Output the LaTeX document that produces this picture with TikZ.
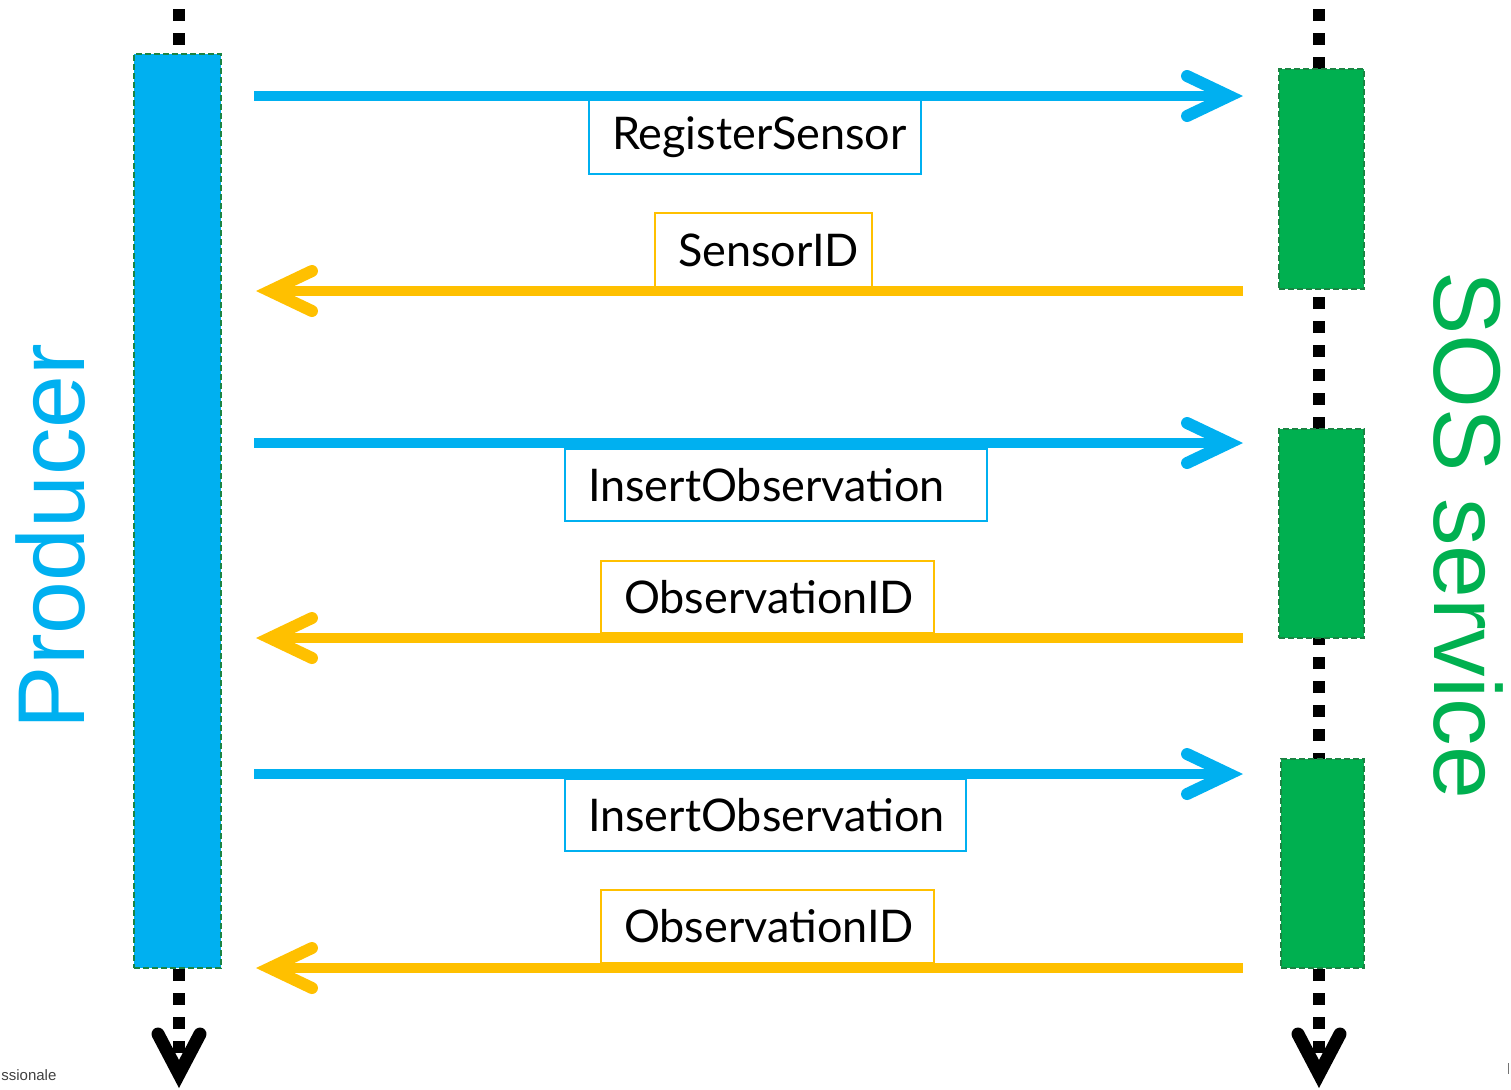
\documentclass[tikz,border=0pt]{standalone}
\usepackage{fontspec}
\setmainfont{Liberation Sans}
\newfontfamily\labelfont{Lato}
\usetikzlibrary{arrows.meta}
\definecolor{msgblue}{HTML}{00B0F0}
\definecolor{msggreen}{HTML}{00B050}
\definecolor{msgorange}{HTML}{FFC000}
\definecolor{edgegreen}{HTML}{1B8443}
\begin{document}
\begin{tikzpicture}[x=0.5pt,y=-0.5pt,
  lifeline/.style={line width=6pt, dash pattern=on 6pt off 6pt,
    -{Straight Barb[length=20pt,width=21pt,line width=6.5pt,line cap=round,line join=miter]}},
  activation/.style={draw=edgegreen, line width=1pt, dash pattern=on 3pt off 1.5pt,
    minimum width=#1, inner sep=0pt},
  request/.style={msgblue, line width=5pt,
    -{Straight Barb[length=21pt,width=20pt,line width=6pt,line cap=round,line join=miter]}},
  reply/.style={msgorange, line width=5pt,
    -{Straight Barb[length=21pt,width=20pt,line width=6pt,line cap=round,line join=miter]}},
  msglabel/.style={draw=#1, line width=1pt, fill=white, inner xsep=11.5pt, inner ysep=0pt,
    minimum height=37pt, align=left, anchor=west,
    font=\labelfont\fontsize{22.5}{22.5}\selectfont},
  actor/.style={font=\fontsize{47.5}{47.5}\selectfont, inner sep=0pt}
]
\useasboundingbox (0,0) rectangle (1511,1089);

% lifelines
\coordinate (prodtop) at (179,9);
\coordinate (prodend) at (179,1088);
\coordinate (sostop) at (1319,9);
\coordinate (sosend) at (1319,1088);
\draw[lifeline] (prodtop) -- (prodend);
\draw[lifeline] (sostop) -- (sosend);

% activation bars
\node[activation=43.5pt, fill=msgblue, minimum height=457pt] (prodbar) at (177.5,511) {};
\node[activation=42.5pt, fill=msggreen, minimum height=110pt] (sosA) at (1321.5,179) {};
\node[activation=42.5pt, fill=msggreen, minimum height=104.5pt] (sosB) at (1321.5,533.5) {};
\node[activation=41.5pt, fill=msggreen, minimum height=104.5pt] (sosC) at (1322.5,863.5) {};

% message end points
\coordinate (p1) at (254,96);   \coordinate (s1) at (1243,96);
\coordinate (p2) at (256,291);  \coordinate (s2) at (1243,291);
\coordinate (p3) at (254,443);  \coordinate (s3) at (1243,443);
\coordinate (p4) at (256,638);  \coordinate (s4) at (1243,638);
\coordinate (p5) at (254,774);  \coordinate (s5) at (1243,774);
\coordinate (p6) at (256,968);  \coordinate (s6) at (1243,968);

\draw[request] (p1) -- (s1);
\draw[reply]   (s2) -- (p2);
\draw[request] (p3) -- (s3);
\draw[reply]   (s4) -- (p4);
\draw[request] (p5) -- (s5);
\draw[reply]   (s6) -- (p6);

% message labels
\node[msglabel=msgblue, text width=143pt] (m1) at (588,137) {RegisterSensor};
\node[msglabel=msgorange, text width=85.5pt] (m2) at (654,250) {SensorID};
\node[msglabel=msgblue, text width=188pt, minimum height=36pt] (m3) at (564,485) {InsertObservation};
\node[msglabel=msgorange, text width=143.5pt, minimum height=36pt] (m4) at (600,597) {ObservationID};
\node[msglabel=msgblue, text width=177.5pt, minimum height=36pt] (m5) at (564,815) {InsertObservation};
\node[msglabel=msgorange, text width=143.5pt, minimum height=36.5pt] (m6) at (600,926.5) {ObservationID};

% participants
\node[actor, text=msgblue, rotate=90] (producer) at (50.5,536.5) {Producer};
\node[actor, text=msggreen, rotate=-90] (sos) at (1468,535) {SOS service};

% footer remnants
\node[anchor=base west, inner sep=0pt, text=black!75, font=\fontsize{7.5}{7.5}\selectfont] (footer) at (1,1080) {ssionale};
\draw[black!55, line width=0.7pt] (1508.5,1063) -- (1508.5,1074);
\end{tikzpicture}
\end{document}
